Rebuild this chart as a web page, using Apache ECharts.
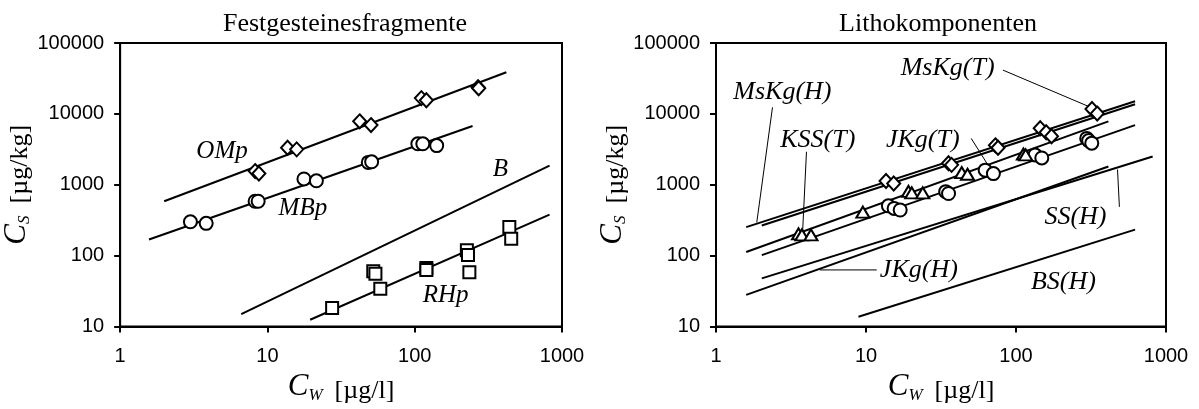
<!DOCTYPE html>
<html>
<head>
<meta charset="utf-8">
<script src="https://cdn.jsdelivr.net/npm/echarts@6/dist/echarts.min.js"></script>
<style>
html,body{margin:0;padding:0;background:#fff;}
#chart{width:1199px;height:409px;}
</style>
</head>
<body>
<div id="chart"></div>
<script>
// ---------- data ----------
const panelTitles = ['Festgesteinesfragmente', 'Lithokomponenten'];
const xRange = [1, 1000];
const yRange = [10, 100000];

// Left panel: Festgesteinesfragmente
const ompPoints = [[8.25,1560],[8.75,1440],[13.7,3330],[15.8,3160],[42.3,7850],[50.5,6950],[111,16700],[120,15600],[269,23800],[272,23000]];
const mbpPoints = [[3.0,301],[3.84,286],[8.25,586],[8.65,586],[17.7,1210],[21.5,1140],[48.4,2070],[51,2110],[105,3790],[113.5,3790],[141,3570]];
const rhpPoints = [[27.5,18.3],[52.3,60.4],[54.1,55.7],[58.4,34.3],[120,66.8],[120,62.8],[226,119],[230,102],[235,58.6],[439,254],[452,174]];
const ompLine = [[1.99,586],[419,38700]];
const mbpLine = [[1.57,169],[247,6740]];
const bLine   = [[6.64,15],[823,1870]];
const rhpLine = [[19.5,12.5],[823,379]];
const leftLabels = [
  {text:'OMp', at:[4.92,2950]},
  {text:'MBp', at:[17.4,464]},
  {text:'B',   at:[382,1660]},
  {text:'RHp', at:[162,27.7]}
];

// Right panel: Lithokomponenten
const mskgPoints = [[13.6,1130],[15.3,1040],[35.5,2010],[37.2,1910],[72.9,3600],[75.9,3330],[145,6280],[159,5510],[172.5,4830],[321,11750],[348,10100]];
const kssPoints  = [[3.55,203],[3.74,197],[4.3,197],[9.53,411],[19.2,809],[20.2,771],[23.9,771],[43.5,1483],[47.5,1410],[112,2720],[116,2640]];
const jkgPoints  = [[14.1,505],[15.4,465],[16.9,441],[34,800],[35.5,754],[62.3,1610],[70.7,1440],[134,2640],[148.6,2390],[296,4510],[305,4200],[320,3870]];
const mskgHLine = [[1.59,253],[622,15100]];
const mskgTLine = [[2.02,267],[622,13700]];
const kssTLine  = [[1.59,113],[413,7850]];
const jkgTLine  = [[2.02,102],[622,6950]];
const ssHLine   = [[2.02,47.9],[815,2510]];
const jkgHLine  = [[1.59,28],[413,1815]];
const bsHLine   = [[8.91,13.8],[622,233]];
const rightPointers = [
  [[81.8,41500],[315,12370]],
  [[2.38,12370],[1.87,295]],
  [[4.01,2925],[3.78,218]],
  [[50.3,4510],[65.9,1815]],
  [[11.8,63],[4.92,63]],
  [[489,489],[475,1644]]
];
const rightLabels = [
  {text:'MsKg(T)', at:[35,43700]},
  {text:'MsKg(H)', at:[2.77,20500]},
  {text:'KSS(T)',  at:[4.77,4290]},
  {text:'JKg(T)',  at:[23.9,4290]},
  {text:'JKg(H)',  at:[22.5,63]},
  {text:'SS(H)',   at:[249,344]},
  {text:'BS(H)',   at:[207,42.1]}
];

// ---------- styles ----------
const SERIF = 'Liberation Serif';
const SANS = 'Liberation Sans';

function nameRich(){
  return {
    c:{fontFamily:SERIF, fontStyle:'italic', fontSize:31, color:'#000', lineHeight:34},
    s:{fontFamily:SERIF, fontStyle:'italic', fontSize:17, color:'#000', verticalAlign:'bottom', lineHeight:12},
    u:{fontFamily:SERIF, fontSize:26, color:'#000', verticalAlign:'bottom', lineHeight:30, padding:[0,0,0,12]}
  };
}

function xAx(gridIndex){
  return {
    type:'log', logBase:10, gridIndex, min:xRange[0], max:xRange[1],
    axisLine:{show:true, lineStyle:{color:'#000', width:2}},
    axisTick:{show:true, inside:false, length:6, lineStyle:{color:'#000', width:2}},
    minorTick:{show:false}, splitLine:{show:false},
    axisLabel:{color:'#000', fontFamily:SANS, fontSize:20, margin:20, formatter:v=>String(Math.round(v))},
    name:'{c|C}{s|W}{u|[µg/l]}', nameLocation:'middle', nameGap:28,
    nameTextStyle:{rich:nameRich()}
  };
}
function yAx(gridIndex){
  return {
    type:'log', logBase:10, gridIndex, min:yRange[0], max:yRange[1],
    axisLine:{show:true, lineStyle:{color:'#000', width:2}},
    axisTick:{show:true, inside:false, length:6, lineStyle:{color:'#000', width:2}},
    minorTick:{show:false}, splitLine:{show:false},
    axisLabel:{color:'#000', fontFamily:SANS, fontSize:20, margin:16, formatter:v=>String(Math.round(v))},
    name:'{c|C}{s|S}{u|[µg/kg]}', nameLocation:'middle', nameRotate:90, nameGap:74,
    nameTextStyle:{rich:nameRich()}
  };
}

function fitLine(data, g, w){
  return {type:'line', xAxisIndex:g, yAxisIndex:g, data, symbol:'none', silent:true,
    lineStyle:{color:'#000', width:w||2}, z:2};
}
function markers(data, g, symbol, size){
  return {type:'scatter', xAxisIndex:g, yAxisIndex:g, data, symbol, symbolSize:size, silent:true,
    itemStyle:{color:'#fff', borderColor:'#000', borderWidth:2, opacity:1}, z:3};
}
function labels(items, g, size){
  return {type:'scatter', xAxisIndex:g, yAxisIndex:g, silent:true, symbolSize:1, z:4,
    itemStyle:{color:'#fff', opacity:0},
    data: items.map(d=>({name:d.text, value:d.at})),
    label:{show:true, position:'inside', formatter:p=>p.name, color:'#000', opacity:1,
      textBorderWidth:0, fontFamily:SERIF, fontStyle:'italic', fontSize:size}
  };
}

const series = [
  fitLine(ompLine,0), fitLine(mbpLine,0), fitLine(bLine,0), fitLine(rhpLine,0),
  markers(ompPoints,0,'diamond',[13,14]),
  markers(mbpPoints,0,'circle',13),
  markers(rhpPoints,0,'rect',12),
  labels(leftLabels,0,25),

  fitLine(mskgHLine,1), fitLine(mskgTLine,1), fitLine(kssTLine,1), fitLine(jkgTLine,1),
  fitLine(ssHLine,1), fitLine(jkgHLine,1), fitLine(bsHLine,1),
  ...rightPointers.map(p=>fitLine(p,1,1)),
  markers(mskgPoints,1,'diamond',[13,14]),
  markers(jkgPoints,1,'circle',13),
  markers(kssPoints,1,'triangle',[13,11]),
  labels(rightLabels,1,26)
];

const chart = echarts.init(document.getElementById('chart'), null, {renderer:'canvas'});
chart.setOption({
  animation:false,
  backgroundColor:'#fff',
  title:[
    {text:panelTitles[0], left:340, top:6, textAlign:'center',
     textStyle:{fontFamily:SERIF, fontSize:26, fontWeight:'normal', color:'#000'}},
    {text:panelTitles[1], left:933, top:6, textAlign:'center',
     textStyle:{fontFamily:SERIF, fontSize:26, fontWeight:'normal', color:'#000'}}
  ],
  grid:[
    {left:112, top:43, width:450, height:304, show:true, borderColor:'#000', borderWidth:2, containLabel:false},
    {left:716, top:43, width:450, height:304, show:true, borderColor:'#000', borderWidth:2, containLabel:false}
  ],
  xAxis:[xAx(0), xAx(1)],
  yAxis:[yAx(0), yAx(1)],
  series
});
</script>
</body>
</html>
